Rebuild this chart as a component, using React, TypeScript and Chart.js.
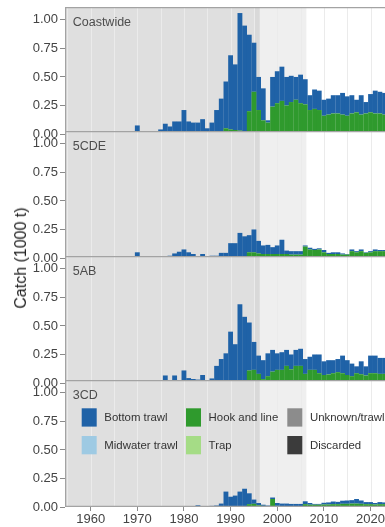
import React, { useEffect, useRef } from 'react';
import { Chart, registerables } from 'chart.js';

Chart.register(...registerables);

// ---------------- data (catch, 1000 t) ----------------
const years = [
  1969, 1970, 1971, 1972, 1973, 1974, 1975, 1976, 1977, 1978,
  1979, 1980, 1981, 1982, 1983, 1984, 1985, 1986, 1987, 1988,
  1989, 1990, 1991, 1992, 1993, 1994, 1995, 1996, 1997, 1998,
  1999, 2000, 2001, 2002, 2003, 2004, 2005, 2006, 2007, 2008,
  2009, 2010, 2011, 2012, 2013, 2014, 2015, 2016, 2017, 2018,
  2019, 2020, 2021, 2022, 2023,
];

const coastBottom = [
  0.025, 0.075, 0.02, 0, 0, 0, 0.04, 0.09, 0.066, 0.11,
  0.11, 0.21, 0.11, 0.10, 0.10, 0.13, 0.05, 0.10, 0.21, 0.30,
  0.41, 0.65, 0.575, 1.03, 0.925, 0.67, 0.43, 0.29, 0.28, 0.02,
  0.26, 0.28, 0.30, 0.25, 0.23, 0.20, 0.25, 0.22, 0.13, 0.17,
  0.17, 0.14, 0.14, 0.16, 0.16, 0.19, 0.17, 0.16, 0.11, 0.17,
  0.10, 0.16, 0.20, 0.19, 0.19,
];
const coastHook = [
  0, 0, 0, 0, 0, 0, 0, 0, 0, 0,
  0, 0, 0, 0, 0, 0, 0, 0, 0, 0.01,
  0.03, 0.04, 0.035, 0.03, 0.025, 0.20, 0.37, 0.21, 0.12, 0.10,
  0.24, 0.27, 0.29, 0.25, 0.28, 0.30, 0.27, 0.26, 0.21, 0.22,
  0.21, 0.16, 0.17, 0.18, 0.18, 0.17, 0.16, 0.18, 0.19, 0.17,
  0.18, 0.19, 0.18, 0.18, 0.17,
];
const coastMidwaterYears = [1972, 1973];
const coastMidwater = [0.012, 0.012];
const coastUnknownYears = [1989];
const coastUnknown = [0.02];

const cdeBottom = [
  0, 0.05, 0.012, 0, 0, 0, 0, 0.015, 0.02, 0.04,
  0.055, 0.075, 0.05, 0.035, 0.015, 0.035, 0.01, 0.02, 0.02, 0.045,
  0.045, 0.13, 0.13, 0.22, 0.19, 0.15, 0.20, 0.11, 0.075, 0.08,
  0.06, 0.075, 0.125, 0.03, 0.03, 0.03, 0.03, 0.01, 0.015, 0.01,
  0.01, 0.02, 0.01, 0.015, 0.015, 0.01, 0.005, 0.015, 0.01, 0.015,
  0.005, 0.01, 0.015, 0.01, 0.01,
];
const cdeHook = [
  0, 0, 0, 0, 0, 0, 0, 0, 0, 0,
  0, 0, 0, 0, 0, 0, 0, 0, 0, 0,
  0, 0, 0, 0, 0, 0.05, 0.05, 0.04, 0.035, 0.035,
  0.035, 0.035, 0.035, 0.035, 0.03, 0.03, 0.03, 0.10, 0.075, 0.07,
  0.075, 0.05, 0.035, 0.035, 0.035, 0.03, 0.03, 0.06, 0.05, 0.06,
  0.045, 0.05, 0.06, 0.06, 0.06,
];
const cdeMidwaterYears = [1972, 1973];
const cdeMidwater = [0.008, 0.008];

const abBottom = [
  0.02, 0.015, 0, 0, 0, 0, 0.02, 0.066, 0.013, 0.066,
  0.02, 0.11, 0.043, 0.035, 0.03, 0.07, 0.01, 0.04, 0.15, 0.205,
  0.24, 0.44, 0.33, 0.68, 0.57, 0.42, 0.245, 0.16, 0.166, 0.20,
  0.19, 0.145, 0.155, 0.14, 0.13, 0.14, 0.15, 0.13, 0.115, 0.135,
  0.164, 0.12, 0.125, 0.114, 0.115, 0.154, 0.13, 0.11, 0.06, 0.113,
  0.08, 0.154, 0.154, 0.14, 0.14,
];
const abHook = [
  0, 0, 0, 0, 0, 0, 0, 0, 0, 0,
  0, 0, 0, 0, 0, 0, 0, 0, 0, 0.005,
  0.01, 0.01, 0.01, 0.01, 0.01, 0.11, 0.115, 0.08, 0.034, 0.06,
  0.10, 0.115, 0.115, 0.15, 0.12, 0.15, 0.15, 0.08, 0.115, 0.115,
  0.086, 0.07, 0.075, 0.086, 0.095, 0.086, 0.07, 0.06, 0.086, 0.077,
  0.066, 0.086, 0.086, 0.08, 0.08,
];
const abUnknownYears = [1989];
const abUnknown = [0.01];

const cdBottom = [
  0, 0, 0, 0, 0, 0, 0, 0, 0, 0,
  0.008, 0.005, 0, 0.005, 0.015, 0, 0.005, 0.01, 0.013, 0.03,
  0.135, 0.09, 0.10, 0.135, 0.16, 0.095, 0.037, 0.02, 0.01, 0.008,
  0.013, 0.025, 0.022, 0.022, 0.019, 0.019, 0.019, 0.025, 0.015, 0.007,
  0.007, 0.015, 0.018, 0.023, 0.02, 0.027, 0.029, 0.03, 0.04, 0.029,
  0.018, 0.018, 0.013, 0.018, 0.015,
];
const cdHook = [
  0, 0, 0, 0, 0, 0, 0, 0, 0, 0,
  0, 0, 0, 0, 0, 0, 0, 0, 0, 0,
  0, 0, 0, 0, 0, 0.025, 0.028, 0.015, 0.01, 0.005,
  0.07, 0.01, 0.008, 0.008, 0.008, 0.008, 0.008, 0.025, 0.02, 0.02,
  0.02, 0.022, 0.022, 0.025, 0.025, 0.028, 0.028, 0.03, 0.03, 0.028,
  0.025, 0.025, 0.022, 0.025, 0.025,
];

const panelNames = ['Coastwide', '5CDE', '5AB', '3CD'];
const gearNames = ['Bottom trawl', 'Midwater trawl', 'Hook and line', 'Trap', 'Unknown/trawl', 'Discarded'];
const gearColors = ['#1f62a7', '#9ecae3', '#2f9a2d', '#a5dc86', '#8c8c8c', '#3b3b3b'];
const yTicks = [0, 0.25, 0.5, 0.75, 1];
const xTicks = [1960, 1970, 1980, 1990, 2000, 2010, 2020];
const gridYears = [1955, 1960, 1965, 1970, 1975, 1980, 1985, 1990, 1995, 2000, 2005, 2010, 2015, 2020];
const shadeBreaks = [1995.0, 1996.25, 2006.25];

type Series = [number[], number[]];
const panelSeries: Record<string, Series>[] = [
  {
    'Bottom trawl': [years, coastBottom],
    'Midwater trawl': [coastMidwaterYears, coastMidwater],
    'Hook and line': [years, coastHook],
    'Unknown/trawl': [coastUnknownYears, coastUnknown],
  },
  {
    'Bottom trawl': [years, cdeBottom],
    'Midwater trawl': [cdeMidwaterYears, cdeMidwater],
    'Hook and line': [years, cdeHook],
  },
  {
    'Bottom trawl': [years, abBottom],
    'Hook and line': [years, abHook],
    'Unknown/trawl': [abUnknownYears, abUnknown],
  },
  {
    'Bottom trawl': [years, cdBottom],
    'Hook and line': [years, cdHook],
  },
];

// ---------------- layout ----------------
const FONT = '"Liberation Sans", Arial, Helvetica, sans-serif';
const W = 385;
const PANEL_TOPS = [7, 131, 256, 380];
const PANEL_H = 127;
const PAD_TOP = 2;
const Y_MAX = 1.113;
const X_MIN = 1954.5;
const X_MAX = 2023.1;
const AXIS_W = 65;
const X_AXIS_H = 20;

function canvasHeight(k: number) {
  if (k === 3) return 527 - (PANEL_TOPS[k] - PAD_TOP);
  return PAD_TOP + PANEL_H + 8;
}

function makeDeco(k: number) {
  return {
    id: 'deco' + k,
    beforeDatasetsDraw(chart: any) {
      const { ctx, chartArea: a, scales } = chart;
      const x = scales.x;
      ctx.save();
      ctx.fillStyle = '#ffffff';
      ctx.fillRect(a.left, a.top, a.right - a.left, a.bottom - a.top);
      // shaded eras
      const xs0 = x.getPixelForValue(shadeBreaks[0]);
      const xs1 = x.getPixelForValue(shadeBreaks[1]);
      const xs2 = x.getPixelForValue(shadeBreaks[2]);
      ctx.fillStyle = 'rgba(0,0,0,0.125)';
      ctx.fillRect(a.left, a.top, xs1 - a.left, a.bottom - a.top);
      ctx.fillStyle = 'rgba(0,0,0,0.022)';
      ctx.fillRect(xs0, a.top, xs1 - xs0, a.bottom - a.top);
      ctx.fillStyle = 'rgba(0,0,0,0.062)';
      ctx.fillRect(xs1, a.top, xs2 - xs1, a.bottom - a.top);
      // vertical grid lines
      ctx.strokeStyle = '#ebebeb';
      ctx.lineWidth = 1;
      for (const g of gridYears) {
        const px = Math.round(x.getPixelForValue(g)) + 0.5;
        if (px < a.left || px > a.right) continue;
        ctx.beginPath();
        ctx.moveTo(px, a.top);
        ctx.lineTo(px, a.bottom);
        ctx.stroke();
      }
      ctx.restore();
    },
    afterDatasetsDraw(chart: any) {
      const { ctx, chartArea: a } = chart;
      ctx.save();
      // panel border
      ctx.strokeStyle = '#a3a3a3';
      ctx.lineWidth = 1.2;
      ctx.beginPath();
      ctx.moveTo(a.right + 2, a.top + 0.6);
      ctx.lineTo(a.left + 0.6, a.top + 0.6);
      ctx.lineTo(a.left + 0.6, a.bottom - 0.6);
      ctx.lineTo(a.right + 2, a.bottom - 0.6);
      ctx.stroke();
      // strip label
      ctx.fillStyle = '#4d4d4d';
      ctx.font = '12.5px ' + FONT;
      ctx.textBaseline = 'middle';
      ctx.textAlign = 'left';
      ctx.fillText(panelNames[k], a.left + 7.7, a.top + 15.3);
      // legend in last panel
      if (k === 3) {
        const cols = [16.7, 121, 222.3];
        const rows = [28.3, 56];
        ctx.font = '11.4px ' + FONT;
        for (let c = 0; c < 3; c++) {
          for (let r = 0; r < 2; r++) {
            const i = c * 2 + r;
            const sx = a.left + cols[c];
            const sy = a.top + rows[r];
            ctx.fillStyle = gearColors[i];
            ctx.fillRect(sx, sy, 15, 18.3);
            ctx.fillStyle = '#333333';
            ctx.fillText(gearNames[i], sx + 22.6, sy + 9.4);
          }
        }
      }
      ctx.restore();
    },
  };
}

function makeChart(canvas: HTMLCanvasElement, k: number) {
  const isLast = k === 3;
  const stackOrder = [5, 4, 3, 2, 1, 0]; // bottom of stack first
  const series = panelSeries[k];
  const datasets = stackOrder.map((gi) => {
    const s = series[gearNames[gi]];
    const data = s ? s[0].map((yr, i) => ({ x: yr, y: s[1][i] })) : [];
    return {
      label: gearNames[gi],
      data,
      backgroundColor: gearColors[gi],
      borderWidth: 0,
      barPercentage: 1.04,
      categoryPercentage: 1,
    };
  });

  return new Chart(canvas, {
    type: 'bar',
    data: { datasets } as any,
    options: {
      responsive: false,
      animation: false,
      devicePixelRatio: 1,
      events: [],
      layout: {
        autoPadding: false,
        padding: { top: PAD_TOP, bottom: isLast ? 0 : 8, left: 0, right: 0 },
      },
      plugins: { legend: { display: false }, tooltip: { enabled: false } },
      scales: {
        x: {
          type: 'linear',
          min: X_MIN,
          max: X_MAX,
          offset: false,
          stacked: true,
          display: isLast,
          grid: {
            display: true,
            offset: false,
            drawOnChartArea: false,
            drawTicks: true,
            tickLength: 4,
            tickColor: '#8a8a8a',
          },
          border: { display: false },
          ticks: {
            autoSkip: false,
            maxRotation: 0,
            padding: 1,
            color: '#444444',
            font: { family: FONT, size: 13 },
            callback: (v: any) => String(v),
          },
          afterBuildTicks: (s: any) => {
            s.ticks = xTicks.map((v) => ({ value: v }));
          },
          afterFit: (s: any) => {
            s.height = isLast ? X_AXIS_H : 0;
            s.paddingLeft = 0;
            s.paddingRight = 0;
          },
        },
        y: {
          type: 'linear',
          min: 0,
          max: Y_MAX,
          stacked: true,
          grid: {
            display: true,
            drawOnChartArea: false,
            drawTicks: true,
            tickLength: 5,
            tickColor: '#8a8a8a',
          },
          border: { display: false },
          ticks: {
            padding: 2,
            color: '#444444',
            font: { family: FONT, size: 13 },
            callback: (v: any) => Number(v).toFixed(2),
          },
          afterBuildTicks: (s: any) => {
            s.ticks = yTicks.map((v) => ({ value: v }));
          },
          afterFit: (s: any) => {
            s.width = AXIS_W;
            s.paddingTop = 0;
            s.paddingBottom = 0;
          },
        },
      },
    } as any,
    plugins: [makeDeco(k)],
  });
}

export default function App() {
  const canvases = useRef<(HTMLCanvasElement | null)[]>([]);

  useEffect(() => {
    const charts = panelNames.map((_, k) => makeChart(canvases.current[k]!, k));
    return () => charts.forEach((c) => c.destroy());
  }, []);

  return (
    <div
      style={{
        position: 'absolute',
        left: 0,
        top: 0,
        width: W,
        height: 527,
        overflow: 'hidden',
        background: '#ffffff',
      }}
    >
      {panelNames.map((name, k) => (
        <canvas
          key={name}
          ref={(el) => {
            canvases.current[k] = el;
          }}
          width={W}
          height={canvasHeight(k)}
          style={{
            position: 'absolute',
            left: 0,
            top: PANEL_TOPS[k] - PAD_TOP,
            width: W,
            height: canvasHeight(k),
          }}
        />
      ))}
      <div
        style={{
          position: 'absolute',
          left: 21,
          top: 257.5,
          transform: 'translate(-50%, -50%) rotate(-90deg)',
          whiteSpace: 'nowrap',
          fontFamily: FONT,
          fontSize: 16,
          color: '#222222',
          lineHeight: 1,
        }}
      >
        Catch (1000 t)
      </div>
    </div>
  );
}
